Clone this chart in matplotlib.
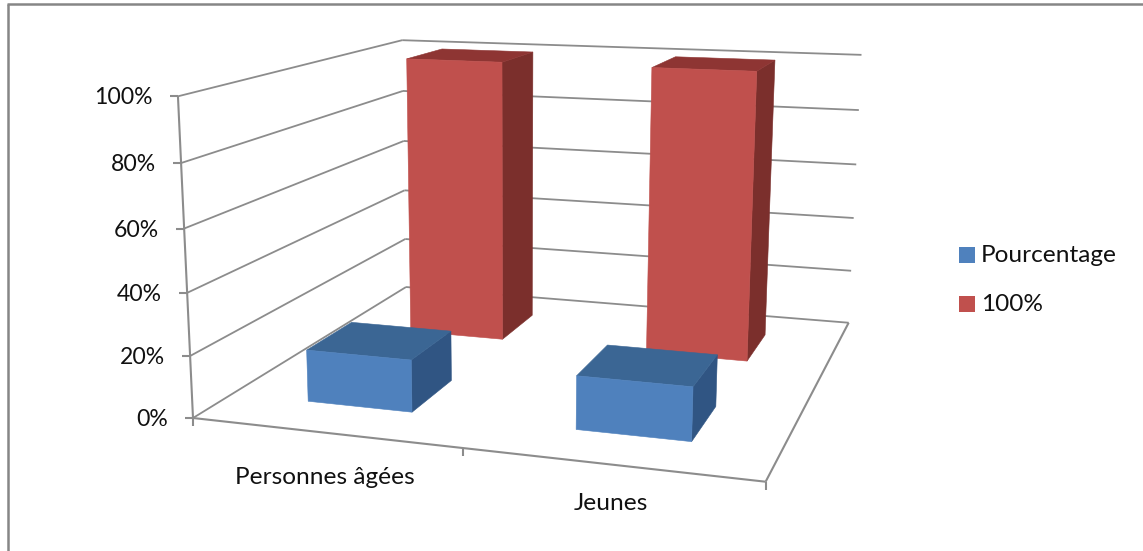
import numpy as np
import matplotlib
matplotlib.use('Agg')
import matplotlib.pyplot as plt
from matplotlib.patches import Polygon, Rectangle

categories = ['Personnes âgées', 'Jeunes']
series_names = ['Pourcentage', '100%']
pourcentage = [17, 17]
cent = [100, 100]
y_ticks = [0, 20, 40, 60, 80, 100]

# front face, top face, side face
blue_faces = ['#4F81BD', '#3B6694', '#305583']
red_faces = ['#C0504D', '#8E3533', '#7B2F2C']
grid_color = '#8C8C8C'
frame_color = '#868686'
text_color = '#111111'

plt.rcParams['font.family'] = ['Lato', 'DejaVu Sans']

# perspective of the chart box: u along categories, v into the depth, z up,
# all 0..1, mapped to pixels by a homogeneous matrix
PROJ = np.array([[491.7, 340.3, -23.0, 193.0],
                 [12.8, -41.0, -326.0, 418.0],
                 [-0.1057, 0.3135, -0.0447, 1.0]])


def project(u, v, z):
    p = PROJ.dot([u, v, z, 1.0])
    return p[0] / p[2], p[1] / p[2]


def draw_bar(ax, cat, ser, value, faces):
    # gap width 150%: the bar fills the middle 40% of its category and series cells
    u0, u1 = (cat + 0.3) / len(categories), (cat + 0.7) / len(categories)
    v0, v1 = (ser + 0.3) / len(series_names), (ser + 0.7) / len(series_names)
    z = value / 100.0
    front = [project(u0, v0, 0), project(u1, v0, 0), project(u1, v0, z), project(u0, v0, z)]
    top = [project(u0, v0, z), project(u1, v0, z), project(u1, v1, z), project(u0, v1, z)]
    side = [project(u1, v0, 0), project(u1, v1, 0), project(u1, v1, z), project(u1, v0, z)]
    for pts, col in zip([side, top, front], [faces[2], faces[1], faces[0]]):
        ax.add_patch(Polygon(pts, closed=True, facecolor=col, edgecolor=col, linewidth=0.4, zorder=3 - ser))


def segment(ax, a, b, lw=1.3, color=grid_color):
    ax.plot([a[0], b[0]], [a[1], b[1]], color=color, linewidth=lw, solid_capstyle='butt', zorder=1)


fig = plt.figure(figsize=(11.43, 5.51), dpi=100)
ax = fig.add_axes([0, 0, 1, 1])
ax.set_xlim(0, 1143)
ax.set_ylim(551, 0)
ax.axis('off')

# outer chart frame
ax.plot([8.2, 8.2], [551, 4.2], color=frame_color, linewidth=1.8, solid_capstyle='butt')
ax.plot([7, 1143], [4.2, 4.2], color=frame_color, linewidth=1.8, solid_capstyle='butt')

# gridlines on the side wall and the back wall
for t in y_ticks:
    z = t / 100.0
    segment(ax, project(0, 0, z), project(0, 1, z))
    segment(ax, project(0, 1, z), project(1, 1, z))
    x, y = project(0, 0, z)
    segment(ax, (x - 8, y), (x, y), lw=1.5)
    ax.text(x - 25, y + 1.5, '%d%%' % t, ha='right', va='center', fontsize=16.6, color=text_color)

# value axis and floor edges
segment(ax, project(0, 0, 0), project(0, 0, 1), lw=1.5)
segment(ax, project(0, 0, 0), project(1, 0, 0), lw=1.5)
segment(ax, project(1, 0, 0), project(1, 1, 0), lw=1.5)
for i in range(len(categories) + 1):
    x, y = project(i / len(categories), 0, 0)
    segment(ax, (x, y), (x, y + 8), lw=1.5)

for i in range(len(categories)):
    draw_bar(ax, i, 1, cent[i], red_faces)
for i in range(len(categories)):
    draw_bar(ax, i, 0, pourcentage[i], blue_faces)

ax.text(325, 477, categories[0], ha='center', va='center', fontsize=17.6, color=text_color)
ax.text(611, 503, categories[1], ha='center', va='center', fontsize=17.6, color=text_color)

# legend
legend_y = [255, 304]
for name, faces, y in zip(series_names, [blue_faces, red_faces], legend_y):
    ax.add_patch(Rectangle((959, y - 8), 16, 16, facecolor=faces[0], edgecolor='none'))
    ax.text(981, y + 0.5, name, ha='left', va='center', fontsize=17.6, color=text_color)

fig.savefig('out.png', dpi=100)
